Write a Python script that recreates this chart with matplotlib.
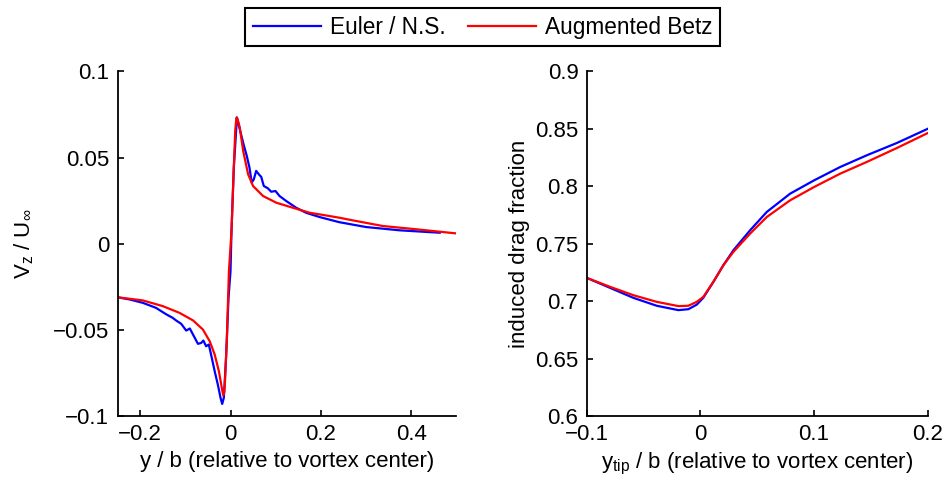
import numpy as np
import matplotlib
matplotlib.use('Agg')
import matplotlib.pyplot as plt
from matplotlib.ticker import FuncFormatter

plt.rcParams['font.family'] = ['Liberation Sans', 'DejaVu Sans']
plt.rcParams['mathtext.fontset'] = 'custom'
plt.rcParams['mathtext.rm'] = 'Liberation Sans'
plt.rcParams['mathtext.it'] = 'Liberation Sans'
plt.rcParams['font.size'] = 16

# ---- left panel: vertical velocity across the vortex ----
euler_y = [-0.252, -0.224, -0.194, -0.165, -0.142, -0.128, -0.120, -0.109, -0.098,
           -0.090, -0.083, -0.072, -0.065, -0.060, -0.054, -0.048, -0.043, -0.035,
           -0.028, -0.022, -0.0184, -0.0148, -0.0095, -0.0044, 0.0, 0.0022, 0.0073,
           0.0143, 0.0215, 0.0288, 0.036, 0.042, 0.047, 0.0516, 0.0568, 0.0627,
           0.068, 0.0737, 0.0826, 0.09, 0.0996, 0.1085, 0.1233, 0.1454, 0.167,
           0.197, 0.241, 0.30, 0.374, 0.463]
euler_vz = [-0.031, -0.0323, -0.0343, -0.0372, -0.041, -0.043, -0.0446, -0.0465, -0.0504,
            -0.0492, -0.0527, -0.0581, -0.0576, -0.0562, -0.0595, -0.0585, -0.0643, -0.074,
            -0.0818, -0.0895, -0.093, -0.0895, -0.0643, -0.0314, -0.016, 0.0074, 0.0442,
            0.0733, 0.0655, 0.0578, 0.051, 0.0442, 0.0355, 0.0374, 0.0423, 0.0403,
            0.0388, 0.0335, 0.0322, 0.0302, 0.0306, 0.0277, 0.0248, 0.0209, 0.018,
            0.0155, 0.0125, 0.0097, 0.0078, 0.0064]

betz_y = [-0.252, -0.194, -0.150, -0.113, -0.083, -0.061, -0.046, -0.035, -0.0257,
          -0.0205, -0.018, -0.016, -0.014, -0.0125, -0.008, -0.0035, 0.0022, 0.0073,
          0.0105, 0.0133, 0.016, 0.0205, 0.028, 0.039, 0.0499, 0.0721, 0.1016, 0.138,
          0.175, 0.212, 0.241, 0.278, 0.337, 0.411, 0.4995]
betz_vz = [-0.031, -0.0329, -0.0362, -0.0401, -0.0445, -0.0498, -0.0566, -0.0643, -0.074,
           -0.0818, -0.0855, -0.088, -0.0865, -0.0818, -0.0547, -0.016, 0.0074, 0.0442,
           0.066, 0.0733, 0.072, 0.0674, 0.0539, 0.0403, 0.0335, 0.0277, 0.0238, 0.0209,
           0.018, 0.0164, 0.0151, 0.0132, 0.0103, 0.0084, 0.006]

# ---- right panel: induced drag fraction vs tip position ----
ytip = [-0.1, -0.0795, -0.059, -0.0384, -0.0194, -0.0106, -0.0032, 0.0026, 0.0114,
        0.0202, 0.029, 0.0437, 0.0584, 0.0789, 0.1, 0.1229, 0.1463, 0.1727, 0.2]
drag_euler = [0.7203, 0.7116, 0.7029, 0.696, 0.6922, 0.693, 0.697, 0.703, 0.7168,
              0.7313, 0.7443, 0.7617, 0.7777, 0.7936, 0.8052, 0.8168, 0.827, 0.8377, 0.8501]
drag_betz = [0.7203, 0.7125, 0.7052, 0.6994, 0.6957, 0.696, 0.6994, 0.7038, 0.7168,
             0.7313, 0.7429, 0.7588, 0.7733, 0.7878, 0.7994, 0.811, 0.8212, 0.8333, 0.8464]

labels = ['Euler / N.S.', 'Augmented Betz']


def fmt(v, pos):
    return f'{v:g}'.replace('-', '\u2212')


def style(ax):
    for s in ['top', 'right']:
        ax.spines[s].set_visible(False)
    for s in ['left', 'bottom']:
        ax.spines[s].set_linewidth(1.3)
    ax.tick_params(direction='in', length=4, width=1.2, labelsize=16, pad=6)
    ax.xaxis.set_major_formatter(FuncFormatter(fmt))
    ax.yaxis.set_major_formatter(FuncFormatter(fmt))


fig = plt.figure(figsize=(9.5, 4.83), dpi=100)
ax1 = fig.add_axes([0.1237, 0.1387, 0.3568, 0.7133])
ax2 = fig.add_axes([0.6176, 0.1387, 0.3590, 0.7133])

l1, = ax1.plot(euler_y, euler_vz, color='#0000ff', lw=1.6)
l2, = ax1.plot(betz_y, betz_vz, color='#ff0000', lw=1.6)
ax1.set_xlim(-0.25, 0.5)
ax1.set_ylim(-0.1, 0.1)
ax1.set_xticks([-0.2, 0, 0.2, 0.4])
ax1.set_yticks([-0.1, -0.05, 0, 0.05, 0.1])
ax1.set_xlabel('y / b (relative to vortex center)')
ax1.set_ylabel(r'V$_{\rm z}$ / U$_\infty$', labelpad=12)
style(ax1)

ax2.plot(ytip, drag_euler, color='#0000ff', lw=1.6)
ax2.plot(ytip, drag_betz, color='#ff0000', lw=1.6)
ax2.set_xlim(-0.1, 0.2)
ax2.set_ylim(0.6, 0.9)
ax2.set_xticks([-0.1, 0, 0.1, 0.2])
ax2.set_yticks([0.6, 0.65, 0.7, 0.75, 0.8, 0.85, 0.9])
ax2.set_xlabel(r'y$_{\rm tip}$ / b (relative to vortex center)')
ax2.set_ylabel('induced drag fraction')
style(ax2)

leg = fig.legend([l1, l2], labels, loc='center', bbox_to_anchor=(0.508, 0.944),
                 ncol=2, handlelength=3.0, handletextpad=0.4, columnspacing=1.0,
                 fancybox=False, framealpha=1, edgecolor='black', fontsize=16.3,
                 borderpad=0.35)
leg.get_frame().set_linewidth(1.5)

fig.savefig('out.png', dpi=100)
